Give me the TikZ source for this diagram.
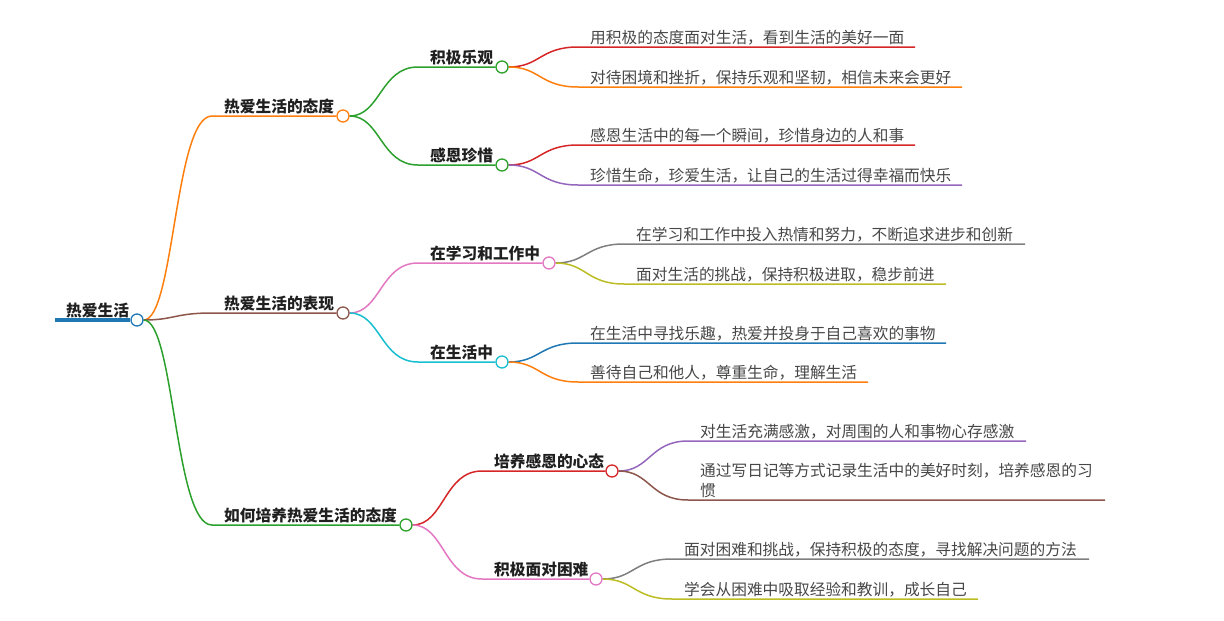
\documentclass[tikz,border=0pt]{standalone}
\usepackage{fontspec}
\setmainfont{Noto Sans CJK SC}
\usetikzlibrary{backgrounds,calc}
\definecolor{cblue}{HTML}{1F77B4}
\definecolor{corange}{HTML}{FF7F0E}
\definecolor{cgreen}{HTML}{2CA02C}
\definecolor{cred}{HTML}{D62728}
\definecolor{cpurple}{HTML}{9467BD}
\definecolor{cbrown}{HTML}{8C564B}
\definecolor{cpink}{HTML}{E377C2}
\definecolor{cgray}{HTML}{7F7F7F}
\definecolor{colive}{HTML}{BCBD22}
\definecolor{ccyan}{HTML}{17BECF}
\tikzset{
  dot/.style={circle, draw=#1, fill=white, line width=1.3pt, minimum size=12pt, inner sep=0pt},
  hd/.style={anchor=base west, inner sep=0pt, font=\fontsize{15.7pt}{20pt}\selectfont\bfseries, text=black!88},
  lf/.style={anchor=base west, inner sep=0pt, align=left, font=\fontsize{15.7pt}{20pt}\selectfont, text=black!72},
  link/.style={draw=#1, line width=1.5pt},
}
% curve from a circle to the start of an underline, then along it
\newcommand{\link}[4]{%
  \draw[link=#1] let \p1=(#2), \p2=(#3) in (#2) .. controls ({(\x1+\x2)/2},\y1) and ({(\x1+\x2)/2},\y2) .. (#3) -- (#4);}
\begin{document}
\begin{tikzpicture}[x=1pt, y=-1pt]
  \useasboundingbox (0,0) rectangle (1224,621);
  % root
  \coordinate (rootL) at (55,320);
  \node[dot=cblue] (root) at (137,320) {};
  \node[hd] (roott) at (66,316) {热爱生活};
  % first level
  \foreach \nd/\cl/\ly/\xc/\txt in {A/corange/116/343/热爱生活的态度, B/cbrown/313/343/热爱生活的表现, C/cgreen/525/406/如何培养热爱生活的态度} {
    \coordinate (\nd s) at (212,\ly);
    \node[dot=\cl] (\nd) at (\xc,\ly) {};
    \node[hd] (\nd t) at (224,\ly-4) {\txt};
  }
  % second level
  \foreach \nd/\cl/\ly/\xs/\xc/\txt in {A1/cgreen/67/418/502/积极乐观, A2/cgreen/165/418/502/感恩珍惜,
      B1/cpink/263/418/549/在学习和工作中, B2/ccyan/362/418/502/在生活中,
      C1/cred/471/482/612/培养感恩的心态, C2/cpink/579/482/596/积极面对困难} {
    \coordinate (\nd s) at (\xs,\ly);
    \node[dot=\cl] (\nd) at (\xc,\ly) {};
    \node[hd] (\nd t) at (\xs+12,\ly-4) {\txt};
  }
  \begin{pgfonlayer}{background}
    \draw[cblue, line width=4pt] (rootL) -- (root);
    \link{corange}{root}{As}{A}
    \link{cbrown}{root}{Bs}{B}
    \link{cgreen}{root}{Cs}{C}
    \link{cgreen}{A}{A1s}{A1}
    \link{cgreen}{A}{A2s}{A2}
    \link{cpink}{B}{B1s}{B1}
    \link{ccyan}{B}{B2s}{B2}
    \link{cred}{C}{C1s}{C1}
    \link{cpink}{C}{C2s}{C2}
  \end{pgfonlayer}
  % leaves
  \foreach \nd/\k/\cl/\ly/\xs/\xe/\txt in {
      A1/1/cred/47/578/915/{用积极的态度面对生活，看到生活的美好一面},
      A1/2/corange/87/578/962/{对待困境和挫折，保持乐观和坚韧，相信未来会更好},
      A2/1/cred/145/578/915/{感恩生活中的每一个瞬间，珍惜身边的人和事},
      A2/2/cpurple/185/578/962/{珍惜生命，珍爱生活，让自己的生活过得幸福而快乐},
      B1/1/cgray/244/624/1025/{在学习和工作中投入热情和努力，不断追求进步和创新},
      B1/2/colive/284/624/946/{面对生活的挑战，保持积极进取，稳步前进},
      B2/1/cblue/343/578/946/{在生活中寻找乐趣，热爱并投身于自己喜欢的事物},
      B2/2/corange/382/578/868/{善待自己和他人，尊重生命，理解生活},
      C1/1/cpurple/441/688/1026/{对生活充满感激，对周围的人和事物心存感激},
      C2/1/cgray/559/672/1089/{面对困难和挑战，保持积极的态度，寻找解决问题的方法},
      C2/2/colive/599/672/978/{学会从困难中吸取经验和教训，成长自己}} {
    \coordinate (\nd s\k) at (\xs,\ly);
    \coordinate (\nd e\k) at (\xe,\ly);
    \node[lf] (\nd t\k) at (\xs+12,\ly-4) {\txt};
    \begin{pgfonlayer}{background}
      \link{\cl}{\nd}{\nd s\k}{\nd e\k}
    \end{pgfonlayer}
  }
  \coordinate (C1s2) at (688,500);
  \coordinate (C1e2) at (1105,500);
  \node[lf, anchor=south west] (C1t2) at (700,498) {通过写日记等方式记录生活中的美好时刻，培养感恩的习\\惯};
  \begin{pgfonlayer}{background}
    \link{cbrown}{C1}{C1s2}{C1e2}
  \end{pgfonlayer}
\end{tikzpicture}
\end{document}
